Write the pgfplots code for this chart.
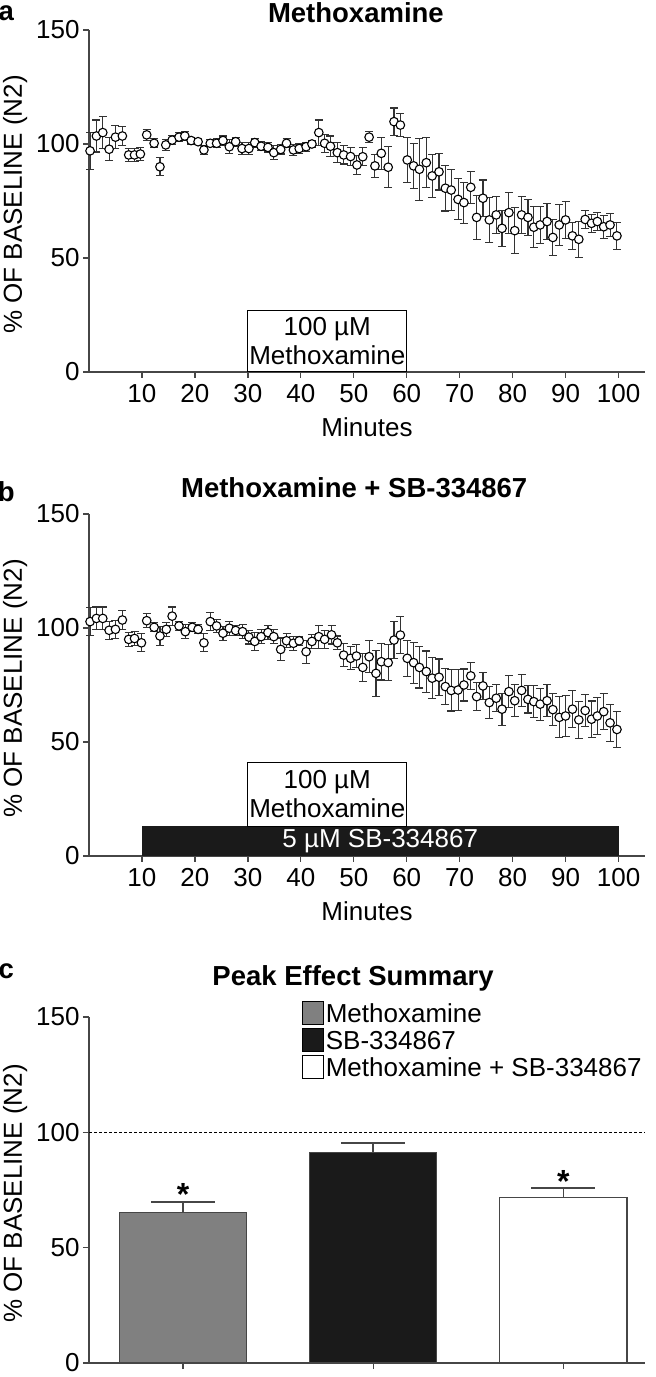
\documentclass[border=0pt]{standalone}
\usepackage{fontspec}
\setmainfont{Liberation Sans}
\usepackage{pgfplots}
\pgfplotsset{compat=1.18}
\usepackage{pgfplotstable}

\definecolor{barg}{RGB}{128,128,128}
\definecolor{barb}{RGB}{26,26,26}
\definecolor{ax}{RGB}{70,70,70}

\newcommand\fs{\fontsize{26bp}{29bp}\selectfont}
\newcommand\fb{\bfseries\fontsize{27.5bp}{31bp}\selectfont}

% time course, panel a (minutes, % of baseline, sem)
\pgfplotstableread{
t v e
0.2 97 8
1.4 103.5 7
2.6 105 7
3.8 97.7 5
5.0 103 5
6.3 103.5 4
7.5 95.2 3
8.6 95.2 3
9.7 95.6 3
10.9 104 2.5
12.3 100.3 2
13.4 90 4
14.5 99.6 2.5
15.7 101.7 2
17.0 103 2
18.1 103.5 2
19.3 101.5 1.5
20.6 101 1
21.7 97.4 2
22.9 100.3 1.5
24.1 100.3 2
25.3 101.5 2
26.5 98.8 3
27.7 101 2
28.9 98 2.5
30.2 98 2.5
31.3 100.6 2
32.5 99 2
33.8 98.5 2
34.9 96.2 3
36.2 97.6 2
37.3 100.3 2
38.6 97.4 2.5
39.7 98 2
41.0 98.8 2
42.1 100 1.5
43.4 105 5.5
44.5 100.3 4
45.6 99 4.5
46.9 96.2 4.5
48.1 95.2 4
49.4 94.5 4
50.6 90.8 4
51.7 94.4 4
52.9 103 2.5
54.0 90.4 5
55.2 95.9 7
56.5 89.8 9
57.6 109.8 6
58.8 108.3 5
60.1 93 10
61.3 90.4 10
62.4 88.9 13.5
63.7 91.8 11
64.8 86 9.5
66.1 87.8 8
67.3 80.6 10
68.4 79.8 9
69.7 75.7 9
70.8 74.3 9
72.1 81 7
73.2 67.8 9.7
74.4 76.2 8
75.6 66.7 10
76.9 68.9 8
78.0 63 8
79.3 69.9 9
80.4 62 10
81.7 68.9 8
82.9 67.8 8
84.0 63.5 9
85.2 64.5 8
86.5 66 8
87.6 59 8
88.8 64.5 9
90.0 66.7 8
91.3 59.7 6
92.5 58.2 8
93.7 66.9 4
94.9 65.2 4
96.0 66 4
97.2 63.7 5
98.4 64.5 5
99.7 59.7 6
}\dataA

% time course, panel b
\pgfplotstableread{
t v e
0.2 102.8 6
1.4 104.2 5
2.6 104.2 5
3.8 99 4
5.0 99.4 4
6.3 103.5 4
7.5 95 3
8.6 95.4 3
9.9 93.5 4
10.9 103.2 3
12.3 100.3 2
13.4 96.5 4
14.6 99.4 3
15.7 105.2 4
17.0 100.9 2
18.2 98.4 3
19.5 100.3 2
20.6 99.4 2
21.7 93.5 4
22.9 102.8 4
24.1 100.9 3
25.3 97.7 3
26.5 99.9 3
27.7 98.9 2
29.0 98.4 3
30.2 96 3
31.3 94.1 4
32.5 96.2 3
33.8 98 3
34.9 96.2 3
36.2 90.6 5
37.3 94.4 3
38.6 93.3 3
39.7 94.4 2
41.0 89.6 5
42.1 94.1 3
43.4 96.2 5
44.5 95 4
45.8 97 4
46.9 93.5 3
48.1 88.1 5
49.4 86.7 5
50.5 87.7 5
51.7 82.7 6
52.9 87.4 7
54.2 80.1 10
55.2 85.2 8
56.5 84.8 8
57.6 94.7 8
58.8 96.9 8
60.1 86.7 8
61.3 84.8 9
62.4 82.7 9
63.7 80.9 9
64.8 78 9
66.1 78.4 8
67.3 74.3 8
68.4 72.6 9
69.7 72.8 9
70.8 75 7
72.1 79 6
73.2 69.9 6
74.4 74.6 6
75.6 67.3 7
76.9 69.2 6
78.0 64.4 7
79.3 72.1 7
80.4 68.1 7
81.7 72.6 7
82.9 68.7 6
84.0 67.7 7
85.2 66.6 7
86.5 68.1 7
87.6 64.2 7
88.8 60.8 9
90.0 61.4 9
91.3 64.4 8
92.5 59.7 8
93.7 63.8 7
94.9 60 8
96.0 61.4 8
97.2 63.3 8
98.4 58.4 8
99.7 55.5 8
}\dataB

\pgfplotsset{
  panel/.style={
    scale only axis, width=556bp,
    axis lines=left,
    axis line style={-, draw=ax, line width=1.3bp},
    tick align=outside, major tick length=6bp,
    tick style={draw=ax, line width=1.3bp},
    ymin=0, ymax=150, ytick={0,50,100,150},
    tick label style={font=\fs},
    /pgf/number format/assume math mode=true,
    label style={font=\fs},
    title style={font=\fb, anchor=center, yshift=0pt},
    ylabel={\% OF BASELINE (N2)},
    ylabel style={at={(axis description cs:-0.133,0.49)}, anchor=center},
    clip=false,
  },
  timecourse/.style={
    panel, height=342bp, xmin=0, xmax=105,
    xtick={10,20,...,100},
    xticklabel style={yshift=-3bp},
    xlabel={Minutes},
    xlabel style={at={(axis description cs:0.5,-0.161)}, anchor=center},
  },
  circ/.style={
    only marks, mark=*, mark size=4.3bp,
    mark options={fill=white, draw=black, line width=1.1bp},
    error bars/y dir=both, error bars/y explicit,
    error bars/error bar style={draw=black!80, line width=1.1bp},
    error bars/error mark options={rotate=90, mark size=4bp, line width=1.1bp, draw=black!80},
  },
  sumbar/.style={
    ybar, bar width=0.67, bar shift=0pt, draw=ax, line width=1.2bp, area legend,
    legend image code/.code={\draw[##1, draw=black, line width=0.9bp] (0bp,-11bp) rectangle (21bp,12bp);},
    error bars/y dir=plus, error bars/y explicit,
    error bars/error bar style={draw=ax, line width=1.5bp},
    error bars/error mark options={rotate=90, mark size=32bp, line width=1.5bp, draw=ax},
  },
}

\begin{document}
\begin{tikzpicture}
\useasboundingbox (0,0) rectangle (656bp,1377bp);

% panel a
\begin{axis}[timecourse, at={(89bp,1005bp)}, anchor=south west,
  title={Methoxamine}, title style={at={(axis description cs:0.48,1.033)}}]
\draw[black, line width=1bp, fill=white] (axis cs:30,0) rectangle (axis cs:60,27);
\node[font=\fs, align=center] at (axis cs:45,13.5) {100 µM\\Methoxamine};
\addplot[circ] table[x=t, y=v, y error=e] {\dataA};
\node[font=\fb] at (axis description cs:-0.149,1.05) {a};
\end{axis}

% panel b
\begin{axis}[timecourse, at={(89bp,521bp)}, anchor=south west,
  title={Methoxamine + SB-334867}, title style={at={(axis description cs:0.477,1.059)}}]
\fill[barb] (axis cs:10,0) rectangle (axis cs:100,13);
\node[font=\fs, text=white] at (axis cs:55,6.5) {5 µM SB-334867};
\draw[black, line width=1bp, fill=white] (axis cs:30,13) rectangle (axis cs:60,41);
\node[font=\fs, align=center] at (axis cs:45,27) {100 µM\\Methoxamine};
\addplot[circ] table[x=t, y=v, y error=e] {\dataB};
\node[font=\fb] at (axis description cs:-0.149,1.065) {b};
\end{axis}

% panel c
\begin{axis}[panel, height=346bp, at={(89bp,14bp)}, anchor=south west,
  xmin=-0.495, xmax=2.43, xtick={0,1,2}, xticklabels={},
  title={Peak Effect Summary}, title style={at={(axis description cs:0.475,1.094)}},
  legend style={at={(0.997,1.046)}, anchor=north east, draw=none, fill=none,
    font=\fs, row sep=3bp, inner sep=0pt, nodes={inner sep=1.5bp}},
  legend cell align=left]
\addplot[black, line width=1bp, dash pattern=on 2.5bp off 2.5bp, forget plot]
  coordinates {(-0.495,100) (2.43,100)};
\addplot[sumbar, fill=barg] coordinates {(0,65.3) +- (0,4.6)};
\addlegendentry{Methoxamine}
\addplot[sumbar, fill=barb] coordinates {(1,91.3) +- (0,4.0)};
\addlegendentry{SB-334867}
\addplot[sumbar, fill=white] coordinates {(2,71.6) +- (0,4.3)};
\addlegendentry{Methoxamine + SB-334867}
\node[font=\bfseries\fontsize{32bp}{32bp}\selectfont] at (axis cs:0,73) {*};
\node[font=\bfseries\fontsize{32bp}{32bp}\selectfont] at (axis cs:2,78.6) {*};
\node[font=\fb] at (axis description cs:-0.149,1.132) {c};
\end{axis}
\end{tikzpicture}
\end{document}
